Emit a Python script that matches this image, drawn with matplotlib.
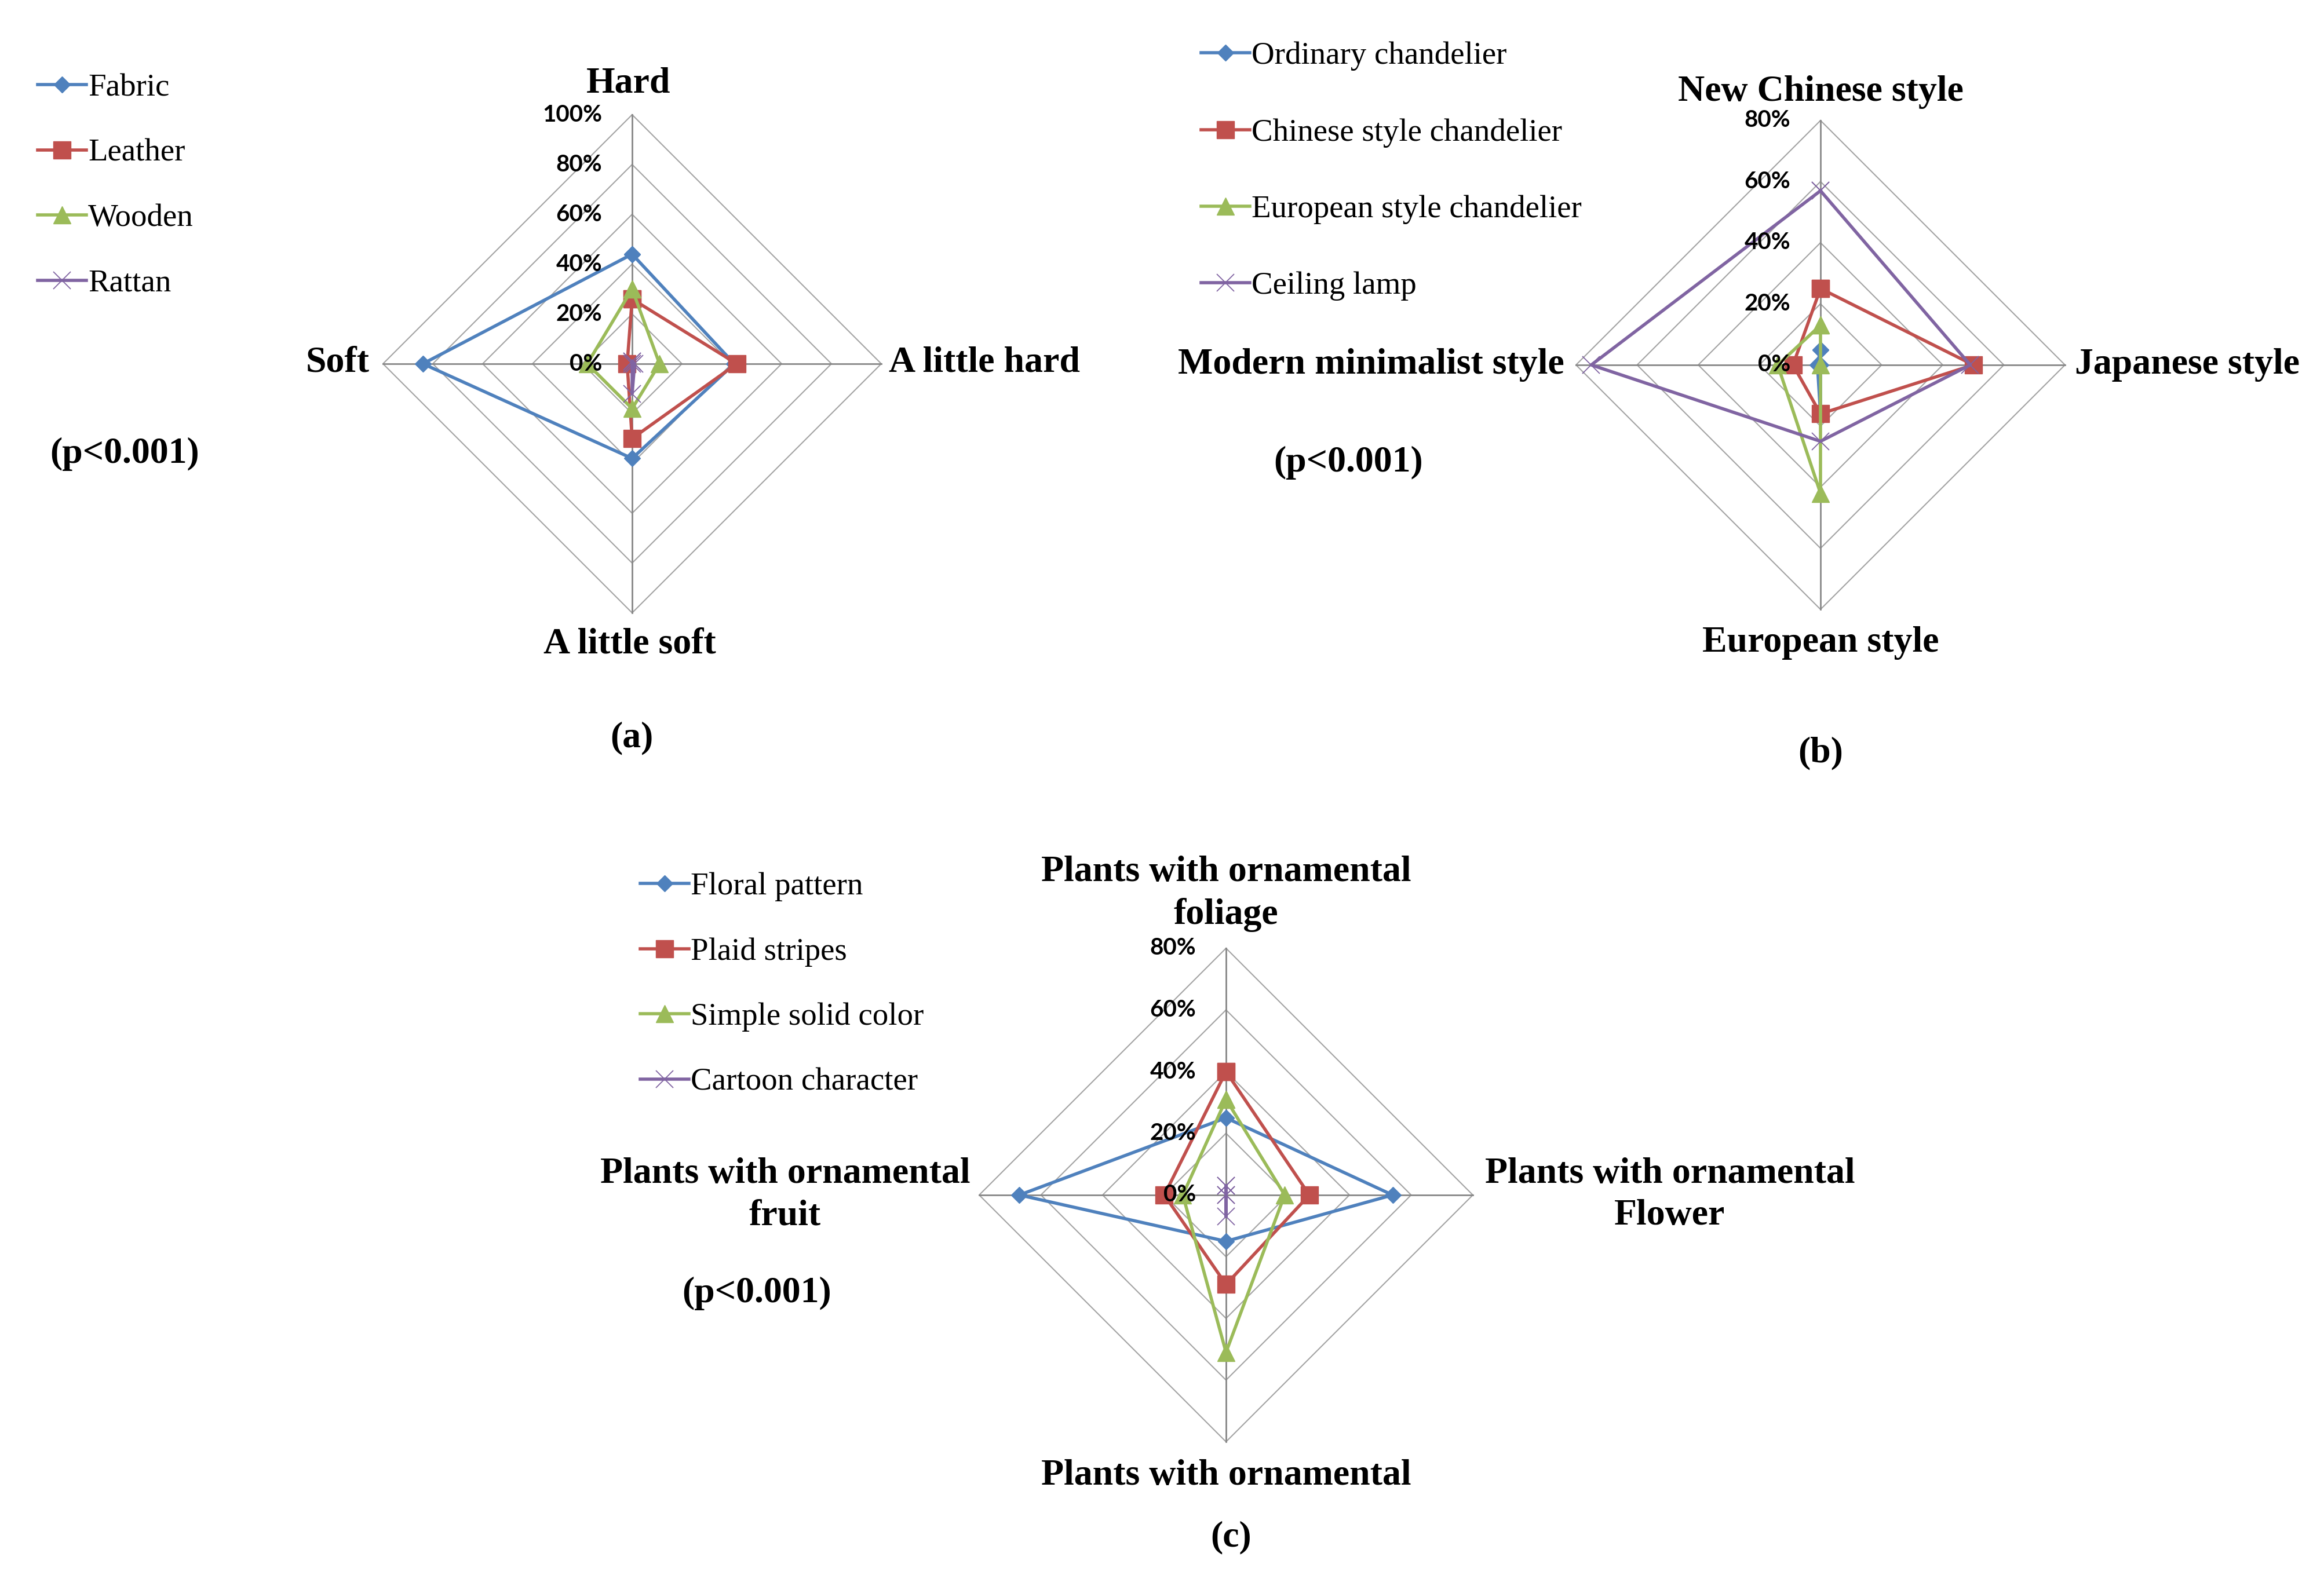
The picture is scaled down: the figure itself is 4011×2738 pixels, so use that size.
import matplotlib
matplotlib.use("Agg")
import matplotlib.pyplot as plt
import numpy as np

W, H = 4012, 2738

# (a) seat material vs hardness
cats_a = ["Hard", "A little hard", "A little soft", "Soft"]
names_a = ["Fabric", "Leather", "Wooden", "Rattan"]
fabric = [44, 41, 38, 84]
leather = [26, 42, 30, 2]
wooden = [30, 11, 18, 18]
rattan = [1, 1, 12, 0]

# (b) lamp type vs decoration style
cats_b = ["New Chinese style", "Japanese style", "European style", "Modern minimalist style"]
names_b = ["Ordinary chandelier", "Chinese style chandelier", "European style chandelier", "Ceiling lamp"]
ordinary = [5, 0, 16, 1]
chinese = [25, 50, 16, 9]
european = [13, 0, 42, 14]
ceiling = [57, 49, 25, 75]

# (c) pattern vs plants
cats_c = ["Plants with ornamental\nfoliage", "Plants with ornamental\nFlower",
          "Plants with ornamental", "Plants with ornamental\nfruit"]
names_c = ["Floral pattern", "Plaid stripes", "Simple solid color", "Cartoon character"]
floral = [25, 54, 15, 67]
plaid = [40, 27, 29, 20]
solid = [31, 19, 51, 14]
cartoon = [3, 0, 7, 0]

colors = ["#4F81BD", "#C0504D", "#9BBB59", "#8064A2"]
markers = ["D", "s", "^", "x"]
msizes = [14, 22, 22, 22]

SERIF = "Liberation Serif"
TICKFONT = "Lato"

fig = plt.figure(figsize=(W / 100, H / 100), dpi=100)


def ftext(x, y, s, ha="center", size=46, weight="bold", **kw):
    fig.text(x / W, 1 - y / H, s, ha=ha, va="center", fontsize=size,
             fontweight=weight, family=SERIF, **kw)


def radar(cx, cy, R, vmax, step, series, names, legend_xy, labelspacing):
    ax = fig.add_axes([(cx - R) / W, 1 - (cy + R) / H, 2 * R / W, 2 * R / H])
    ax.set_xlim(-vmax, vmax)
    ax.set_ylim(-vmax, vmax)
    ax.axis("off")
    ang = np.pi / 2 - np.arange(4) * np.pi / 2
    ca, sa = np.cos(ang), np.sin(ang)
    for r in np.arange(step, vmax + 1, step):
        ax.plot(np.append(r * ca, r * ca[0]), np.append(r * sa, r * sa[0]),
                color="#a3a3a3", lw=1.5, zorder=1, clip_on=False)
    for c, s in zip(ca, sa):
        ax.plot([0, vmax * c], [0, vmax * s], color="#878787", lw=2,
                zorder=1, clip_on=False)
    off = 52.0 / R * vmax
    for r in np.arange(0, vmax + 1, step):
        ax.text(-off, r, f"{r}%", ha="right", va="center", fontsize=29,
                fontweight="bold", family=TICKFONT, zorder=6)
    for vals, name, col, mk, ms in zip(series, names, colors, markers, msizes):
        v = np.array(vals, dtype=float)
        x = np.append(v * ca, v[0] * ca[0])
        y = np.append(v * sa, v[0] * sa[0])
        mew = 1.3 if mk == "x" else 1
        ax.plot(x, y, color=col, lw=4, marker=mk, ms=ms, mew=mew,
                mec=col, mfc=col, label=name, clip_on=False, zorder=3)
    lx, ly = legend_xy
    ax.legend(loc="upper left", bbox_to_anchor=(lx / W, 1 - ly / H),
              bbox_transform=fig.transFigure, frameon=False,
              prop={"family": SERIF, "size": 39.5}, handlelength=1.54,
              handletextpad=0.05, labelspacing=labelspacing, borderpad=0,
              borderaxespad=0)
    return ax


# panel (a)
radar(1091, 628, 430, 100, 20, [fabric, leather, wooden, rattan], names_a,
      (65, 127), 1.13)
ftext(1085, 144, cats_a[0])
ftext(1534, 627, cats_a[1], ha="left")
ftext(1087, 1112, cats_a[2])
ftext(638, 627, cats_a[3], ha="right")
ftext(215, 784, "(p<0.001)")
ftext(1090, 1274, "(a)")

# panel (b)
radar(3142, 630, 422, 80, 20, [ordinary, chinese, european, ceiling], names_b,
      (2073, 72), 1.49)
ftext(3142, 159, cats_b[0])
ftext(3581, 630, cats_b[1], ha="left")
ftext(3142, 1110, cats_b[2])
ftext(2700, 630, cats_b[3], ha="right")
ftext(2327, 799, "(p<0.001)")
ftext(3142, 1300, "(b)")

# panel (c)
radar(2116, 2063, 426, 80, 20, [floral, plaid, solid, cartoon], names_c,
      (1105, 1506), 1.13)
ftext(2116, 1543, cats_c[0], linespacing=1.33)
ftext(2882, 2063, cats_c[1], linespacing=1.33)
ftext(2116, 2548, cats_c[2])
ftext(1355, 2063, cats_c[3], linespacing=1.33)
ftext(1306, 2233, "(p<0.001)")
ftext(2125, 2654, "(c)")

fig.savefig("out.png", dpi=100, facecolor="white")
